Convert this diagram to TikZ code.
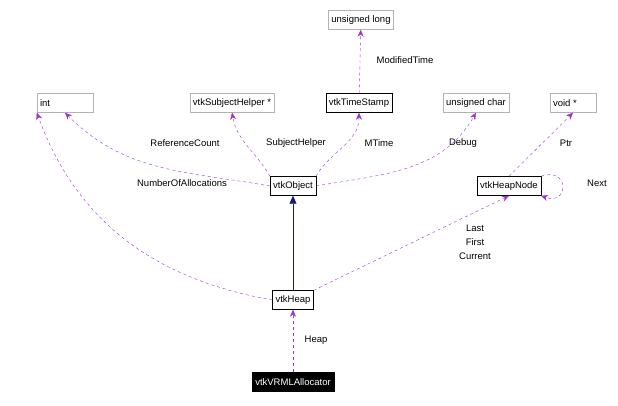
\documentclass[tikz,border=0pt]{standalone}
\usepackage{fontspec}
\setmainfont{Liberation Sans}
\usetikzlibrary{arrows.meta, positioning}
\definecolor{edgepurple}{RGB}{153, 51, 204}
\definecolor{inherit}{RGB}{25, 25, 112}
\begin{document}
\begin{tikzpicture}[x=1pt, y=-1pt,
    font=\fontsize{9.5}{11}\selectfont,
    cls/.style={draw=black, fill=white, inner sep=3pt, minimum height=19pt},
    ext/.style={draw=gray!60, fill=white, inner sep=3pt, minimum height=19pt},
    usage/.style={draw=edgepurple, dashed, -{Stealth[length=7pt, width=6pt]}},
    lbl/.style={inner sep=1pt}
  ]
    \useasboundingbox (0, 0) rectangle (618, 405);

    \node[ext] (ulong) at (361, 20) {unsigned long};
    \node[cls] (stamp) at (359, 103) {vtkTimeStamp};
    \node[ext] (int) at (65, 103) {\makebox[50pt][l]{int}};
    \node[ext] (helper) at (232, 103) {vtkSubjectHelper *};
    \node[ext] (uchar) at (476, 103) {unsigned char};
    \node[ext] (void) at (573, 103) {\makebox[40pt][l]{void *}};
    \node[cls] (object) at (293, 186) {vtkObject};
    \node[cls] (heapnode) at (509, 186) {vtkHeapNode};
    \node[cls] (heap) at (293, 300) {vtkHeap};
    \node[cls, fill=black, text=white] (alloc) at (293, 382) {vtkVRMLAllocator};

    % members of vtkObject
    \draw[usage] (object.west) to[out=170, in=-45] (int.south);
    \node[lbl] at (185, 143) {ReferenceCount};
    \draw[usage] (object.north west) to[out=120, in=-80] (helper.south);
    \node[lbl] at (296, 143) {SubjectHelper};
    \draw[usage] (object.north east) to[out=60, in=-90] (stamp.south);
    \node[lbl] at (379, 143) {MTime};
    \draw[usage] (object.east) to[out=10, in=-120] (uchar.south);
    \node[lbl] at (463, 143) {Debug};
    \draw[usage] (stamp) -- (ulong);
    \node[lbl] at (405, 60) {ModifiedTime};

    % vtkHeapNode
    \draw[usage] (heapnode.north) -- (void.south);
    \node[lbl] at (566, 143) {Ptr};
    \draw[usage] (heapnode.north east) to[out=20, in=-20, looseness=4] (heapnode.south east);
    \node[lbl] at (597, 183) {Next};

    % vtkHeap
    \draw[usage] (heap.west) to[out=170, in=-70] (int.south west);
    \node[lbl] at (182, 183) {NumberOfAllocations};
    \draw[usage] (heap.north east) -- (heapnode.south);
    \node[lbl, align=center] at (475, 242) {Last\\[3pt]First\\[3pt]Current};
    \draw[draw=inherit, -{Triangle[length=8pt, width=7pt, fill=inherit]}] (heap) -- (object);

    \draw[usage] (alloc) -- (heap);
    \node[lbl] at (316, 340) {Heap};
\end{tikzpicture}
\end{document}
